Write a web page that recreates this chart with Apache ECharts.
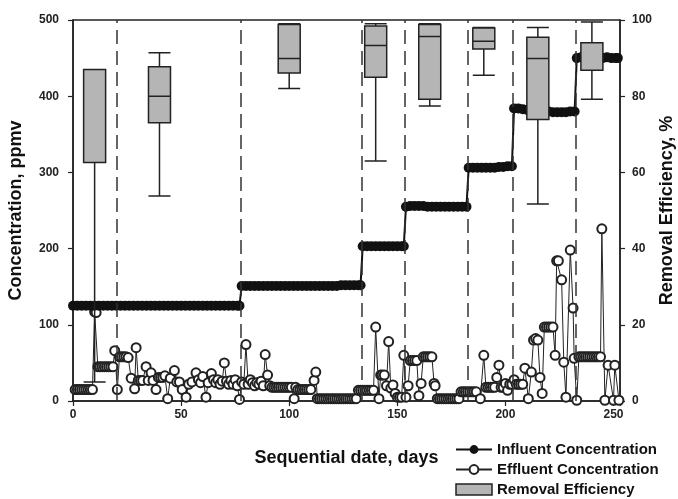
<!DOCTYPE html>
<html lang="en">
<head>
  <meta charset="UTF-8">
  <script src="https://cdn.jsdelivr.net/npm/echarts@6/dist/echarts.min.js"></script>
  <title>Concentration and removal efficiency</title>
  <style>
    html, body { margin: 0; background: #fff; }
    #chart { width: 678px; height: 499px; }
  </style>
</head>
<body>
  <div id="chart"></div>
  <script type="text/javascript">
    // influent concentration, [day, ppmv]
    var influent = [
      [0,125],[2,125],[4,125],[6,125],[8,125],[10,125],[12,125],[14,125],[16,125],[18,125],
      [20,125],[22,125],[24,125],[26,125],[28,125],[30,125],[32,125],[34,125],[36,125],[38,125],
      [40,125],[42,125],[44,125],[46,125],[48,125],[50,125],[52,125],[54,125],[56,125],[58,125],
      [60,125],[62,125],[64,125],[66,125],[68,125],[70,125],[72,125],[74,125],[76,125],[77,125],
      [78,151],[80,151],[82,151],[84,151],[86,151],[88,151],[90,151],[92,151],[94,151],[96,151],
      [98,151],[100,151],[102,151],[104,151],[106,151],[108,151],[110,151],[112,151],[114,151],
      [116,151],[118,151],[120,151],[122,151],[124,152],[126,152],[128,152],[130,152],[132,152],[133,152],
      [134,203],[136,203],[138,203],[140,203],[142,203],[144,203],[146,203],[148,203],[150,203],[152,203],[153,203],
      [154,255],[156,256],[158,256],[160,256],[162,256],[164,255],[166,255],[168,255],[170,255],
      [172,255],[174,255],[176,255],[178,255],[180,255],[182,255],
      [183,306],[185,306],[187,306],[189,306],[191,306],[193,306],[195,306],[197,307],[199,307],[201,308],[203,308],
      [204,384],[206,384],[208,383],[210,382],[212,381],[214,381],[216,380],[218,380],[220,380],
      [222,379],[224,379],[226,379],[228,379],[230,380],[232,380],
      [233,450],[235,451],[237,451],[239,450],[241,450],[243,450],[245,450],[247,451],[249,450],[251,450],[252,450]
    ];

    // effluent concentration, [day, ppmv]
    var effluent = [
      [1,15],[2,15],[3,15],[4,15],[5,15],[6,15],[7,15],[8,15],[9,15],
      [10,117],[10.7,116],[11.5,45],[12.5,45],[13.5,45],[14.5,45],[15.5,45],[16.5,45],[17.5,45],[18.5,45],
      [19.3,66],[20.5,15],[21.5,58],[22.5,58],[23.5,58],[24.5,58],[25.5,57],
      [26.9,30],[28.5,16],[29.2,70],[30.2,27],[31.2,27],[32.2,27],[33.8,45],[34.8,27],[36.1,37],[37,27],[38.4,15],
      [39.5,31],[40.5,31],[41.5,31],[42.5,33],[43.8,3],[45,30],[46.9,40],[48,25],[49.2,25],[50.5,15],
      [52.3,5],[53.5,22],[55,25],[56.9,37],[58,28],[59,24],[60,32],[61.5,5],[62.5,24],[64,36],
      [65,28],[66,24],[67,28],[68,22],[69,26],[70,50],[71,26],[72,22],[73,27],[74,22],[75,28],[76,20],
      [77,2],[78,25],[79,22],[80,74],[81,22],[82,28],[83,24],[84,20],[85,24],[86,22],[87,26],[88,20],
      [88.9,61],[90,34],[91,20],[92,18],[93,18],[94,18],[95,18],[96,18],[97,18],[98,18],[99,18],[100,18],[101,18],
      [102.3,3],[103,18],[104,15],[105,15],[106,15],[107,15],[108,15],[109,15],[110,15],[111.5,27],[112.3,38],
      [113,3],[114,3],[115,3],[116,3],[117,3],[118,3],[119,3],[120,3],[121,3],[122,3],[123,3],[124,3],
      [125,3],[126,3],[127,3],[128,3],[129,3],[130,3],[131,3],
      [132,14],[133,14],[134,14],[135,14],[136,14],[137,14],[138,14],[139,14],
      [140,97],[141.5,3],[142.3,34],[143,34],[144,34],[145,20],[146,78],[147,17],[148,21],[149,10],
      [150,5],[151,5],[152,5],[153,60],[154,5],[155,20],[156,53],[157,53],[158,53],[159,53],[160,7],[161,23],
      [162,58],[163,58],[164,58],[165,58],[166,58],[167,23],[167.5,20],
      [168.5,3],[169.5,3],[170.5,3],[171.5,3],[172.5,3],[173.5,3],[174.5,3],[175.5,3],[176.5,3],[177.5,3],[178.5,3],
      [179.5,12],[180.5,12],[181.5,12],[182.5,12],[183.5,12],[184.5,12],[185.5,12],[186.5,12],[188.4,3],
      [190,60],[191,18],[192,18],[193,18],[194,18],[195,18],[196,31],[197,47],[198,18],[199,18],[200,23],
      [201,14],[202,22],[203,22],[204,28],[205,22],[206,22],[207,22],[208,22],[209,43],[210.6,3],[212,38],
      [213,80],[214,82],[215,80],[216,31],[217,10],[218,97],[219,97],[220,97],[221,97],[222,97],[223,60],
      [223.7,184],[224.5,184],[226,159],[227,51],[228,5],[230,198],[231.3,122],[231.8,56],[233,1],
      [234,58],[235,58],[236,58],[237,58],[238,58],[239,58],[240,58],[241,58],[242,58],[243,58],[244,58],
      [244.6,226],[246,1],[247.5,47],[250,1],[250.6,47],[252.5,1]
    ];

    // removal efficiency per stage: [day, min, Q1, median, Q3, max] in %
    var removal = [
      [10, 5, 62.6, 87, 87, 87],
      [40, 53.8, 73, 80, 87.7, 91.4],
      [100, 82, 86.1, 89.9, 98.8, 99],
      [140, 63, 85, 93.3, 98.4, 99],
      [165, 77.4, 79.2, 95.7, 98.8, 99],
      [190, 85.5, 92.4, 94.4, 97.9, 98],
      [215, 51.7, 73.9, 89.9, 95.5, 98],
      [240, 79.2, 86.8, 94, 94, 99.5]
    ];

    // stage boundaries, days
    var stageLines = [20.3, 77.4, 133.4, 153.4, 182.7, 203.5, 232.5];

    var font = "'Liberation Sans', Arial, sans-serif";
    var boxStyle = { color: '#b5b5b5', borderColor: '#222', borderWidth: 1.5 };

    var chart = echarts.init(document.getElementById('chart'), null, { renderer: 'canvas' });

    var option = {
      animation: false,
      backgroundColor: '#fff',
      grid: {
        left: 73, right: 58, top: 20, bottom: 98,
        outerBoundsMode: 'none',
        containLabel: false,
        show: true, borderColor: '#222', borderWidth: 1.5
      },
      legend: {
        orient: 'vertical',
        left: 455,
        top: 442,
        padding: 0,
        itemWidth: 36,
        itemHeight: 11,
        itemGap: 5,
        textStyle: { fontFamily: font, fontWeight: 'bold', fontSize: 15, color: '#111' },
        data: [
          { name: 'Influent Concentration' },
          { name: 'Effluent Concentration' },
          { name: 'Removal Efficiency', icon: 'rect', itemStyle: boxStyle }
        ]
      },
      xAxis: {
        type: 'value',
        min: 0, max: 253, interval: 50,
        name: 'Sequential date, days',
        nameLocation: 'middle',
        nameGap: 48,
        nameMoveOverlap: false,
        nameTextStyle: { fontFamily: font, fontWeight: 'bold', fontSize: 18, color: '#111' },
        axisLine: { lineStyle: { color: '#222', width: 1.5 } },
        axisTick: { length: 5, lineStyle: { color: '#222', width: 1.2 } },
        axisLabel: {
          fontFamily: font, fontWeight: 'bold', fontSize: 12, color: '#222', margin: 8,
          formatter: function (v) { return v % 50 === 0 ? String(v) : ''; }
        },
        splitLine: { show: false }
      },
      yAxis: [
        {
          type: 'value', position: 'left',
          min: 0, max: 500, interval: 100,
          name: 'Concentration, ppmv',
          nameLocation: 'middle',
          nameGap: 48,
          nameMoveOverlap: false,
          nameTextStyle: { fontFamily: font, fontWeight: 'bold', fontSize: 18, color: '#111' },
          axisLine: { show: true, lineStyle: { color: '#222', width: 1.5 } },
          axisTick: { show: true, length: 5, lineStyle: { color: '#222', width: 1.2 } },
          axisLabel: { fontFamily: font, fontWeight: 'bold', fontSize: 12, color: '#222', margin: 14 },
          splitLine: { show: false }
        },
        {
          type: 'value', position: 'right',
          min: 0, max: 100, interval: 20,
          name: 'Removal Efficiency, %',
          nameLocation: 'middle',
          nameGap: 38,
          nameMoveOverlap: false,
          nameTextStyle: { fontFamily: font, fontWeight: 'bold', fontSize: 18, color: '#111' },
          axisLine: { show: true, lineStyle: { color: '#222', width: 1.5 } },
          axisTick: { show: true, length: 5, lineStyle: { color: '#222', width: 1.2 } },
          axisLabel: { fontFamily: font, fontWeight: 'bold', fontSize: 12, color: '#222', margin: 12 },
          splitLine: { show: false }
        }
      ],
      series: [
        {
          name: 'Effluent Concentration',
          type: 'line',
          yAxisIndex: 0,
          z: 2,
          data: effluent,
          symbol: 'emptyCircle',
          symbolSize: 9,
          lineStyle: { color: '#222', width: 1 },
          itemStyle: { color: '#222', borderWidth: 1.2 },
          markLine: {
            silent: true,
            symbol: ['none', 'none'],
            label: { show: false },
            lineStyle: { color: '#333', type: [14, 7], width: 1.5 },
            data: stageLines.map(function (d) { return { xAxis: d }; })
          }
        },
        {
          name: 'Influent Concentration',
          type: 'line',
          yAxisIndex: 0,
          z: 3,
          data: influent,
          symbol: 'circle',
          symbolSize: 10,
          lineStyle: { color: '#111', width: 2 },
          itemStyle: { color: '#111' }
        },
        {
          name: 'Removal Efficiency',
          type: 'boxplot',
          yAxisIndex: 1,
          layout: 'horizontal',
          z: 4,
          boxWidth: [22, 22],
          data: removal,
          itemStyle: boxStyle
        }
      ]
    };

    chart.setOption(option);
  </script>
</body>
</html>
